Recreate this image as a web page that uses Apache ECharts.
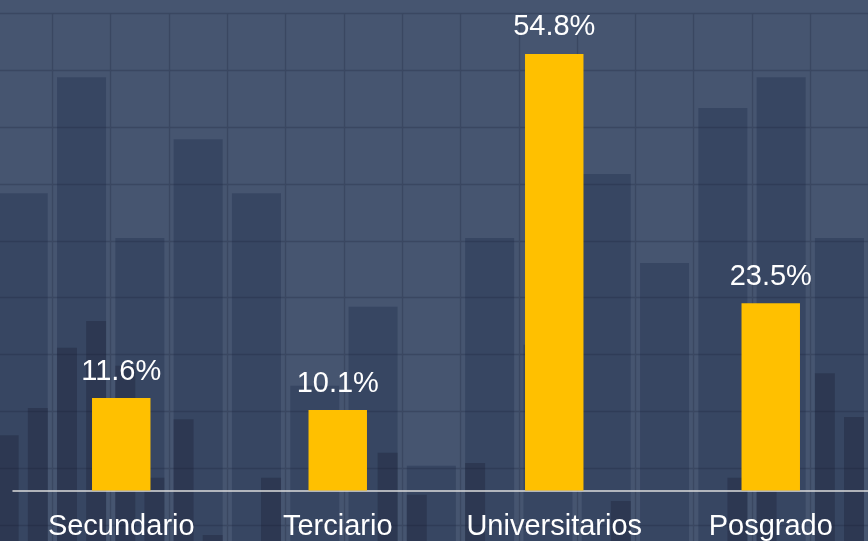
<!DOCTYPE html>
<html>
<head>
<meta charset="utf-8">
<script src="https://cdn.jsdelivr.net/npm/echarts@6/dist/echarts.min.js"></script>
<style>
  html, body { margin: 0; padding: 0; background: #465570; }
  #chart { width: 868px; height: 541px; }
</style>
</head>
<body>
<div id="chart"></div>
<script>
// main data
let categories = ["Secundario", "Terciario", "Universitarios", "Posgrado"];
let shares = [11.6, 10.1, 54.8, 23.5];

// decorative backdrop: wide columns and narrow columns (0-100 scale)
let backCols = ["c1", "c2", "c3", "c4", "c5", "c6", "c7", "c8", "c9", "c10", "c11", "c12", "c13", "c14", "c15"];
let backWide = [68.4, 88.8, 60.5, 77.9, 68.4, 34.5, 48.4, 20.4, 60.5, 41.7, 71.8, 56.1, 83.4, 88.8, 60.5];
let backSlots = backCols.flatMap((c) => [c + "a", c + "b"]);
let backNarrow = [25.8, 30.6, 41.2, 45.9, 38.0, 18.3, 28.6, 8.2, "-", 18.3,
  "-", "-", "-", 22.7, 15.3, "-", 20.9, "-", "-", "-",
  "-", 14.2, "-", "-", "-", 18.3, 16.1, "-", 36.7, 29.0];

let chart = echarts.init(document.getElementById("chart"));
let font = "'Liberation Sans', Arial, sans-serif";

let option = {
  backgroundColor: "#465570",
  animation: false,
  grid: [
    { left: -5.9, right: -0.6, top: 13.7, bottom: -40.7, outerBoundsMode: "none" },
    { left: 13, right: -11, top: 12.5, bottom: 50.5, outerBoundsMode: "none" },
  ],
  xAxis: [
    {
      gridIndex: 0,
      type: "category",
      data: backCols,
      axisLine: { show: false },
      axisTick: { show: false },
      axisLabel: { show: false },
      splitLine: {
        show: true,
        interval: 0,
        lineStyle: { color: "#3a4761", width: 1.3 },
      },
    },
    {
      gridIndex: 0,
      type: "category",
      position: "bottom",
      data: backSlots,
      axisLine: { show: false },
      axisTick: { show: false },
      axisLabel: { show: false },
      splitLine: { show: false },
    },
    {
      gridIndex: 1,
      type: "category",
      data: categories,
      z: 10,
      axisLine: { lineStyle: { color: "#dcdcdc", width: 1.5 } },
      axisTick: { show: false },
      axisLabel: {
        interval: 0,
        color: "#ffffff",
        fontFamily: font,
        fontSize: 29,
        margin: 22,
      },
    },
  ],
  yAxis: [
    {
      gridIndex: 0,
      type: "value",
      min: 0,
      max: 100,
      interval: 10,
      axisLine: { show: false },
      axisTick: { show: false },
      axisLabel: { show: false },
      splitLine: { lineStyle: { color: "#3a4761", width: 1.3 } },
    },
    {
      gridIndex: 1,
      type: "value",
      min: 0,
      max: 60,
      show: false,
      splitLine: { show: false },
    },
  ],
  series: [
    {
      type: "bar",
      xAxisIndex: 0,
      yAxisIndex: 0,
      data: backWide,
      barWidth: 49,
      itemStyle: { color: "rgba(23,35,65,0.3)" },
      silent: true,
    },
    {
      type: "bar",
      xAxisIndex: 1,
      yAxisIndex: 0,
      data: backNarrow,
      barWidth: 20,
      barGap: "-100%",
      itemStyle: { color: "rgba(22,27,48,0.3)" },
      silent: true,
    },
    {
      type: "bar",
      xAxisIndex: 2,
      yAxisIndex: 1,
      data: shares,
      z: 11,
      barWidth: "27%",
      itemStyle: { color: "#ffc000" },
      label: {
        show: true,
        position: "top",
        distance: 12,
        formatter: "{c}%",
        color: "#ffffff",
        fontFamily: font,
        fontSize: 29,
      },
    },
  ],
};

chart.setOption(option);
</script>
</body>
</html>
